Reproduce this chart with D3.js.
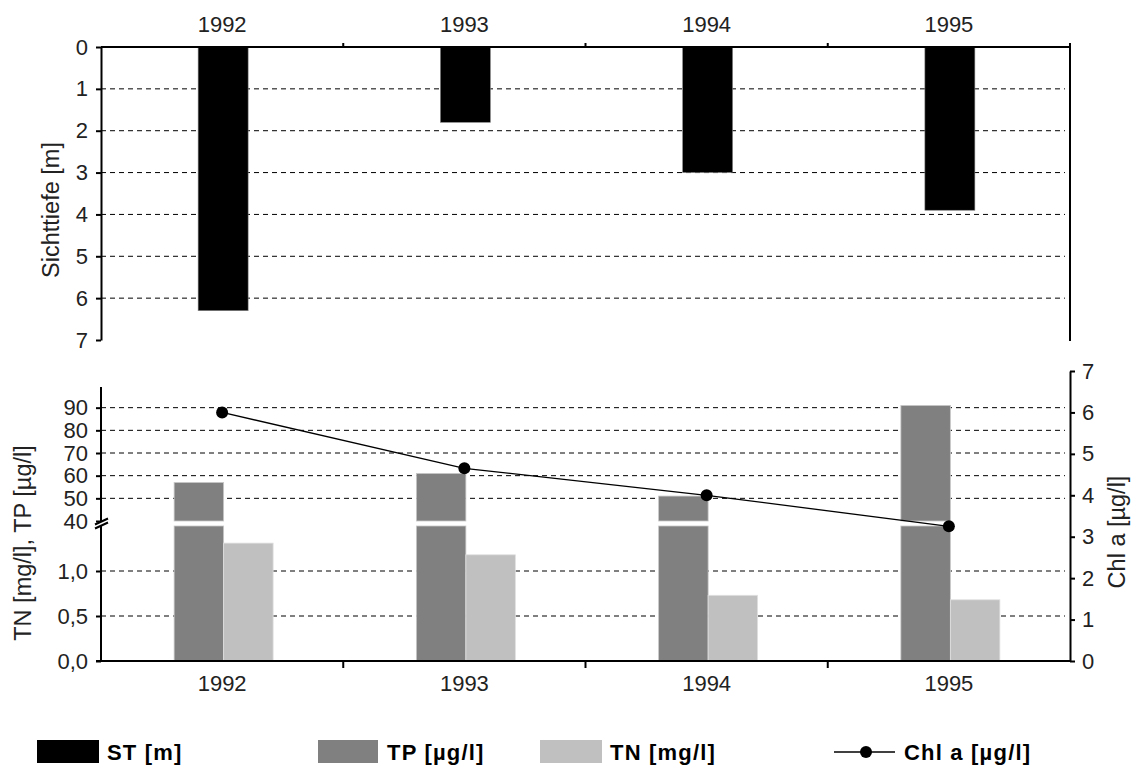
<!DOCTYPE html>
<html lang="de">
<head>
<meta charset="utf-8">
<title>Sichttiefe, TP, TN, Chl a</title>
<script src="https://cdn.jsdelivr.net/npm/d3@7"></script>
<style>
  body { margin: 0; background: #fff; }
  svg text { font-family: "Liberation Sans", Arial, sans-serif; fill: #000; }
  .tick text { font-size: 22px; fill: #222; }
  .axis path, .axis line { stroke: #000; stroke-width: 2px; }
  .grid { stroke: #000; stroke-width: 1px; stroke-dasharray: 5,4; }
  .lab { font-size: 23.5px; text-anchor: middle; fill: #222; }
  .leg { font-size: 22px; font-weight: bold; letter-spacing: 1.2px; }
</style>
</head>
<body>
<svg width="1134" height="765"></svg>
<script>
// values
var years = ["1992", "1993", "1994", "1995"];
var st  = [6.3, 1.8, 3.0, 3.9];        // Sichttiefe [m]
var tp  = [57, 61, 51, 91];            // TP [µg/l]
var tn  = [1.31, 1.18, 0.73, 0.68];    // TN [mg/l]
var chl = [6.0, 4.65, 4.0, 3.25];      // Chl a [µg/l]
var stTicks  = [0, 1, 2, 3, 4, 5, 6, 7];
var tpTicks  = [40, 50, 60, 70, 80, 90];
var tnTicks  = [0, 0.5, 1.0];
var chlTicks = [0, 1, 2, 3, 4, 5, 6, 7];

var svg = d3.select("svg");
var left = 101, right = 1070;

var x = d3.scaleBand().domain(years).range([left, right]).padding(0);
var bw = x.bandwidth();
function cx(d) { return x(d) + bw / 2; }

// ---------- upper panel: Sichttiefe ----------
var yST = d3.scaleLinear().domain([0, 7]).range([47, 340]);

var upper = svg.append("g");

upper.selectAll(".gridST")
   .data(stTicks.filter(function(d) { return d > 0 && d < 7; }))
   .enter().append("line")
   .attr("class", "grid")
   .attr("x1", left).attr("x2", right - 5)
   .attr("y1", function(d) { return yST(d); })
   .attr("y2", function(d) { return yST(d); });

upper.selectAll(".barST")
   .data(years)
   .enter().append("rect")
   .attr("x", function(d) { return cx(d) - 24; })
   .attr("width", 50)
   .attr("y", yST(0))
   .attr("height", function(d, i) { return yST(st[i]) - yST(0); })
   .attr("fill", "#000")
   .attr("stroke", "#888").attr("stroke-width", 0.6);

upper.append("g").attr("class", "axis")
   .attr("transform", "translate(" + left + ",0)")
   .call(d3.axisLeft(yST).tickValues(stTicks).tickFormat(d3.format("d"))
      .tickSize(5).tickSizeOuter(0).tickPadding(8));

var topAxis = upper.append("g").attr("class", "axis")
   .attr("transform", "translate(0," + yST(0) + ")")
   .call(d3.axisTop(x).tickSize(0).tickPadding(15));
topAxis.select(".domain").remove();

upper.append("line")
   .attr("x1", left).attr("x2", right)
   .attr("y1", yST(0)).attr("y2", yST(0))
   .attr("stroke", "#000").attr("stroke-width", 2);

upper.selectAll(".sepTop")
   .data(years.slice(1))
   .enter().append("line")
   .attr("x1", function(d) { return x(d); }).attr("x2", function(d) { return x(d); })
   .attr("y1", yST(0)).attr("y2", yST(0) - 4)
   .attr("stroke", "#000").attr("stroke-width", 2);

upper.append("line")
   .attr("x1", right).attr("x2", right)
   .attr("y1", yST(0) - 4).attr("y2", yST(7) + 1)
   .attr("stroke", "#000").attr("stroke-width", 2);

upper.append("text")
   .attr("class", "lab")
   .attr("transform", "translate(59,210) rotate(-90)")
   .text("Sichttiefe [m]");

// ---------- lower panel: TP, TN, Chl a ----------
var base = 661;
var yTN = d3.scaleLinear().domain([0, 1.5]).range([base, 526]);
var yTP = d3.scaleLinear().domain([40, 100]).range([521, 385]);
var yChl = d3.scaleLinear().domain([0, 7]).range([base, 371]);

var low = svg.append("g");

var grids = tpTicks.filter(function(d) { return d > 40; }).map(function(d) { return yTP(d); })
   .concat(tnTicks.filter(function(d) { return d > 0; }).map(function(d) { return yTN(d); }));

low.selectAll(".gridLow")
   .data(grids)
   .enter().append("line")
   .attr("class", "grid")
   .attr("x1", left).attr("x2", right - 5)
   .attr("y1", function(d) { return d; })
   .attr("y2", function(d) { return d; });

// TP bars: full lower part up to the break, upper part from 40 to the value
low.selectAll(".tpLow")
   .data(years)
   .enter().append("rect")
   .attr("x", function(d) { return cx(d) - 48; })
   .attr("width", 49.5)
   .attr("y", yTN(1.5))
   .attr("height", base - yTN(1.5))
   .attr("fill", "#808080")
   .attr("stroke", "#c8c8c8").attr("stroke-width", 0.8);

low.selectAll(".tpHigh")
   .data(years)
   .enter().append("rect")
   .attr("x", function(d) { return cx(d) - 48; })
   .attr("width", 49.5)
   .attr("y", function(d, i) { return yTP(tp[i]); })
   .attr("height", function(d, i) { return yTP(40) - yTP(tp[i]); })
   .attr("fill", "#808080")
   .attr("stroke", "#c8c8c8").attr("stroke-width", 0.8);

low.selectAll(".tn")
   .data(years)
   .enter().append("rect")
   .attr("x", function(d) { return cx(d) + 1.5; })
   .attr("width", 49.5)
   .attr("y", function(d, i) { return yTN(tn[i]); })
   .attr("height", function(d, i) { return base - yTN(tn[i]); })
   .attr("fill", "#c0c0c0")
   .attr("stroke", "#e0e0e0").attr("stroke-width", 0.8);

// left axis with break
var fmt = function(d) { return d3.format(".1f")(d).replace(".", ","); };

var axTN = low.append("g").attr("class", "axis")
   .attr("transform", "translate(" + left + ",0)")
   .call(d3.axisLeft(yTN).tickValues(tnTicks).tickFormat(fmt).tickSize(5).tickPadding(8));
axTN.select(".domain").remove();

var axTP = low.append("g").attr("class", "axis")
   .attr("transform", "translate(" + left + ",0)")
   .call(d3.axisLeft(yTP).tickValues(tpTicks).tickFormat(d3.format("d")).tickSize(5).tickPadding(8));
axTP.select(".domain").remove();

low.append("line")
   .attr("x1", left).attr("x2", left)
   .attr("y1", yTP(100) + 2).attr("y2", base)
   .attr("stroke", "#000").attr("stroke-width", 2);

// break mark
var by = (yTP(40) + yTN(1.5)) / 2;
low.append("path")
   .attr("d", "M95," + (by + 1) + "L108," + (by - 5) + "L108," + (by - 1) + "L95," + (by + 5) + "Z")
   .attr("fill", "#fff");
low.selectAll(".brk")
   .data([-2, 2])
   .enter().append("line")
   .attr("x1", 95).attr("x2", 108)
   .attr("y1", function(d) { return by + d + 3; })
   .attr("y2", function(d) { return by + d - 3; })
   .attr("stroke", "#000").attr("stroke-width", 2);

// bottom axis
var axB = low.append("g").attr("class", "axis")
   .attr("transform", "translate(0," + base + ")")
   .call(d3.axisBottom(x).tickSize(0).tickPadding(14));
axB.select(".domain").remove();

low.append("line")
   .attr("x1", left - 5).attr("x2", right)
   .attr("y1", base).attr("y2", base)
   .attr("stroke", "#000").attr("stroke-width", 2);

low.selectAll(".sepBot")
   .data(years.slice(1))
   .enter().append("line")
   .attr("x1", function(d) { return x(d); }).attr("x2", function(d) { return x(d); })
   .attr("y1", base).attr("y2", base + 7)
   .attr("stroke", "#000").attr("stroke-width", 2);

// right axis
low.append("g").attr("class", "axis")
   .attr("transform", "translate(" + right + ",0)")
   .call(d3.axisRight(yChl).tickValues(chlTicks).tickFormat(d3.format("d"))
      .tickSize(5).tickSizeOuter(0).tickPadding(7));

// Chl a line
var line = d3.line()
   .x(function(d, i) { return cx(years[i]); })
   .y(function(d) { return yChl(d); });

low.append("path")
   .datum(chl)
   .attr("d", line)
   .attr("fill", "none")
   .attr("stroke", "#000").attr("stroke-width", 1.3);

low.selectAll(".dot")
   .data(chl)
   .enter().append("circle")
   .attr("cx", function(d, i) { return cx(years[i]); })
   .attr("cy", function(d) { return yChl(d); })
   .attr("r", 6)
   .attr("fill", "#000");

low.append("text")
   .attr("class", "lab")
   .attr("transform", "translate(31,543) rotate(-90)")
   .text("TN [mg/l], TP [µg/l]");

low.append("text")
   .attr("class", "lab")
   .attr("transform", "translate(1125,532) rotate(-90)")
   .text("Chl a [µg/l]");

// ---------- legend ----------
var ly = 752;
var legBoxes = [
  { x: 37,  w: 62, fill: "#000",    label: "ST [m]",     tx: 107 },
  { x: 318, w: 60, fill: "#808080", label: "TP [µg/l]",  tx: 387 },
  { x: 540, w: 62, fill: "#c0c0c0", label: "TN [mg/l]",  tx: 610 }
];
var leg = svg.append("g");
leg.selectAll(".lbox")
   .data(legBoxes)
   .enter().append("rect")
   .attr("x", function(d) { return d.x; })
   .attr("y", ly - 12)
   .attr("width", function(d) { return d.w; })
   .attr("height", 23)
   .attr("fill", function(d) { return d.fill; });
leg.selectAll(".ltext")
   .data(legBoxes)
   .enter().append("text")
   .attr("class", "leg")
   .attr("x", function(d) { return d.tx; })
   .attr("y", ly)
   .attr("dy", "0.36em")
   .text(function(d) { return d.label; });

leg.append("line")
   .attr("x1", 834).attr("x2", 895)
   .attr("y1", ly).attr("y2", ly)
   .attr("stroke", "#000").attr("stroke-width", 1.3);
leg.append("circle")
   .attr("cx", 866).attr("cy", ly).attr("r", 6).attr("fill", "#000");
leg.append("text")
   .attr("class", "leg")
   .attr("x", 904).attr("y", ly).attr("dy", "0.36em")
   .text("Chl a [µg/l]");
</script>
</body>
</html>
